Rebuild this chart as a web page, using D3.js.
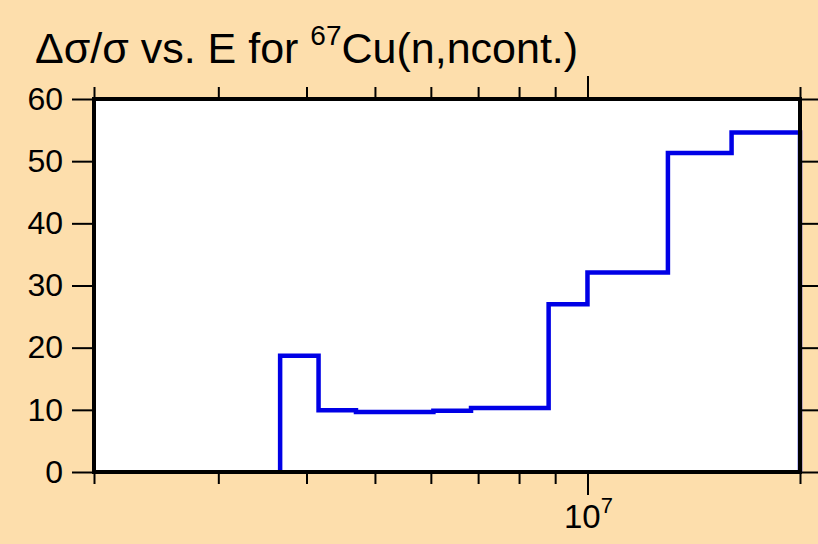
<!DOCTYPE html>
<html>
<head>
<meta charset="utf-8">
<script src="https://cdn.jsdelivr.net/npm/d3@7"></script>
<style>
  html, body { margin: 0; padding: 0; background: #fddeac; }
  svg { display: block; }
  text { font-family: "Liberation Sans", Arial, Helvetica, sans-serif; fill: #000; }
</style>
</head>
<body>
<svg id="chart" width="818" height="544"></svg>
<script>
// Bin edges (energy, eV) and relative uncertainty values (%)
const binEdges = [3.67e6, 4.16e6, 4.70e6, 5.34e6, 6.05e6, 6.84e6, 8.81e6, 1.0e7, 1.30e7, 1.60e7, 2.0e7];
const binValues = [18.7, 9.93, 9.65, 9.65, 9.86, 10.29, 27.0, 32.1, 51.3, 54.6];
const yTicks = [0, 10, 20, 30, 40, 50, 60];
const xTicks = [2e6, 3e6, 4e6, 5e6, 6e6, 7e6, 8e6, 9e6, 1e7, 2e7];
const xMajor = [1e7];

(function () {
const svg = d3.select("#chart");
const W = 818, H = 544;
const pL = 94, pR = 800, pT = 99, pB = 472;

svg.append("rect").attr("width", W).attr("height", H).attr("fill", "#fddeac");

const x = d3.scaleLog().domain([2e6, 2e7]).range([pL, pR]);
const y = d3.scaleLinear().domain([0, 60]).range([pB, pT]);

// plot area
svg.append("rect")
  .attr("x", pL).attr("y", pT)
  .attr("width", pR - pL).attr("height", pB - pT)
  .attr("fill", "#ffffff");

// step histogram
const pts = [[binEdges[0], 0]];
binValues.forEach((v, i) => {
  pts.push([binEdges[i], v]);
  pts.push([binEdges[i + 1], v]);
});
pts.push([binEdges[binEdges.length - 1], 0]);

const line = d3.line().x(d => x(d[0])).y(d => y(d[1]));
svg.append("path")
  .attr("d", line(pts))
  .attr("fill", "none")
  .attr("stroke", "#0000e6")
  .attr("stroke-width", 4.5)
  .attr("stroke-linejoin", "miter");

// axes
function styleAxis(g) {
  g.select(".domain").remove();
  g.selectAll(".tick line").attr("stroke", "#000").attr("stroke-width", 2);
}

const yLeft = svg.append("g")
  .attr("transform", `translate(${pL - 2},0)`)
  .call(d3.axisLeft(y).tickValues(yTicks).tickSize(20).tickPadding(9).tickFormat(d3.format("d")));
styleAxis(yLeft);
yLeft.selectAll("text").attr("font-size", 32).attr("font-family", "Liberation Sans, Arial, sans-serif").attr("fill", "#000");

const yRight = svg.append("g")
  .attr("transform", `translate(${pR + 2},0)`)
  .call(d3.axisRight(y).tickValues(yTicks).tickSize(20).tickFormat(""));
styleAxis(yRight);

const xBottom = svg.append("g")
  .attr("transform", `translate(0,${pB + 2})`)
  .call(d3.axisBottom(x).tickValues(xTicks).tickSize(11).tickFormat(""));
styleAxis(xBottom);
xBottom.selectAll(".tick line").attr("y2", d => xMajor.includes(d) ? 21 : 10);

const xTop = svg.append("g")
  .attr("transform", `translate(0,${pT - 2})`)
  .call(d3.axisTop(x).tickValues(xTicks).tickSize(11).tickFormat(""));
styleAxis(xTop);
xTop.selectAll(".tick line").attr("y2", d => xMajor.includes(d) ? -21 : -10);

// major x label 10^7
xMajor.forEach(v => {
  const t = svg.append("text")
    .attr("x", x(v) + 1).attr("y", 528)
    .attr("text-anchor", "middle")
    .attr("font-size", 33);
  t.append("tspan").text("10");
  t.append("tspan").attr("font-size", 22).attr("dy", -15).text(Math.round(Math.log10(v)));
});

// frame
svg.append("rect")
  .attr("x", pL).attr("y", pT)
  .attr("width", pR - pL).attr("height", pB - pT)
  .attr("fill", "none")
  .attr("stroke", "#000")
  .attr("stroke-width", 4);

// title
const title = svg.append("text")
  .attr("x", 35).attr("y", 63)
  .attr("font-size", 43);
title.append("tspan").text("Δσ/σ vs. E for ");
title.append("tspan").attr("font-size", 28).attr("dy", -18).text("67");
title.append("tspan").attr("dy", 18).text("Cu(n,ncont.)");
})();
</script>
</body>
</html>
